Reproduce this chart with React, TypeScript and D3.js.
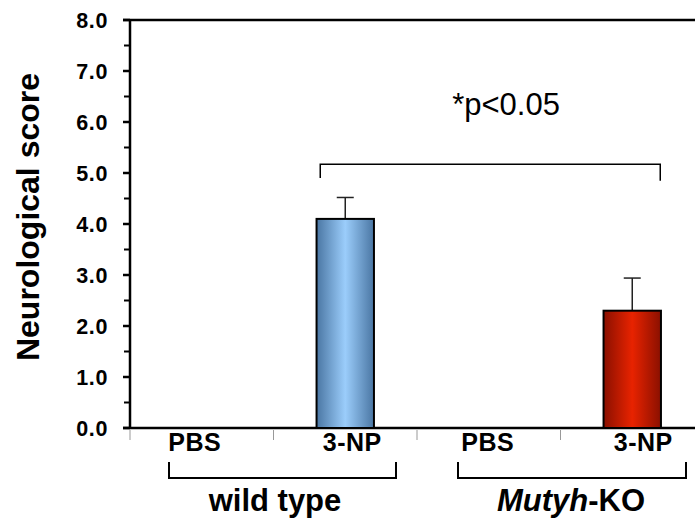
import React from 'react'
import * as d3 from 'd3'

// data
const groups = ['wild type', 'Mutyh-KO']
const treatments = ['PBS', '3-NP', 'PBS', '3-NP']
const scores = [0, 4.1, 0, 2.3]
const errors = [0, 0.42, 0, 0.64]
const barColors = [
  ['#4a76a3', '#9bcdfb'],
  ['#4a76a3', '#9bcdfb'],
  ['#8a1000', '#e82300'],
  ['#8a1000', '#e82300'],
]
const yTicks = [0, 1, 2, 3, 4, 5, 6, 7, 8]
const yMinor = [0.5, 1.5, 2.5, 3.5, 4.5, 5.5, 6.5, 7.5]
const sigText = '*p<0.05'

const W = 695
const H = 520
const font = 'Arial, "Liberation Sans", Helvetica, sans-serif'
// labels sit a little off the band centres in the original
const labelShift = [-7, 7, -1, 11]

export default function App() {
  const y = d3.scaleLinear().domain([0, 8]).range([428, 20])
  const x = d3.scaleBand<number>().domain(d3.range(treatments.length)).range([130, 704])
  const bw = x.bandwidth() * 0.4
  const cx = (i: number) => (x(i) as number) + x.bandwidth() / 2
  const fmt = d3.format('.1f')

  const groupSpan = (g: number) => {
    const a = x(g * 2) as number
    const b = (x(g * 2 + 1) as number) + x.bandwidth()
    return [a, b]
  }
  const bracketInset = [[39, 21], [41, 18]]

  return (
    <svg width={W} height={H} style={{ position: 'absolute', left: 0, top: 0, background: '#fff' }} fontFamily={font}>
      <defs>
        {barColors.map((c, i) => (
          <linearGradient key={i} id={'grad' + i} x1="0" x2="1" y1="0" y2="0">
            <stop offset="0" stopColor={c[0]} />
            <stop offset="0.5" stopColor={c[1]} />
            <stop offset="1" stopColor={c[0]} />
          </linearGradient>
        ))}
      </defs>

      {/* y title */}
      <text transform={`translate(39,${217}) rotate(-90)`} textAnchor="middle" fontWeight="bold" fontSize={32}>
        Neurological score
      </text>

      {/* y ticks */}
      {yTicks.map(t => (
        <g key={'t' + t}>
          <line x1={123} x2={130} y1={y(t)} y2={y(t)} stroke="#000" strokeWidth={2.5} />
          <text x={108} y={y(t) + 7.5} textAnchor="end" fontWeight="bold" fontSize={21.5} letterSpacing={0.6}>
            {fmt(t)}
          </text>
        </g>
      ))}
      {yMinor.map(t => (
        <line key={'m' + t} x1={124} x2={130} y1={y(t)} y2={y(t)} stroke="#000" strokeWidth={2} />
      ))}

      {/* frame lines */}
      <line x1={130} x2={130} y1={y(8) - 1} y2={y(0) + 1} stroke="#000" strokeWidth={2.5} />
      <line x1={123} x2={W} y1={y(8)} y2={y(8)} stroke="#000" strokeWidth={2.5} />
      <line x1={123} x2={W} y1={y(0)} y2={y(0)} stroke="#000" strokeWidth={2.5} />

      {/* category separators */}
      {d3.range(treatments.length).map(i => (
        <line key={'s' + i} x1={x(i) as number} x2={x(i) as number} y1={y(0) + 2} y2={y(0) + 12} stroke="#999" strokeWidth={1} />
      ))}

      {/* bars */}
      {scores.map((v, i) => v > 0 && (
        <g key={'b' + i}>
          <line x1={cx(i)} x2={cx(i)} y1={y(v)} y2={y(v + errors[i])} stroke="#222" strokeWidth={1.5} />
          <line x1={cx(i) - 8.5} x2={cx(i) + 8.5} y1={y(v + errors[i])} y2={y(v + errors[i])} stroke="#222" strokeWidth={1.5} />
          <rect x={cx(i) - bw / 2} y={y(v)} width={bw} height={y(0) - y(v)} fill={`url(#grad${i})`} stroke="#000" strokeWidth={2} />
        </g>
      ))}

      {/* significance bracket */}
      <path
        d={`M${cx(1) - 25},${y(4.9)} V${y(5.17)} H${cx(3) + 28} V${y(4.85)}`}
        fill="none" stroke="#000" strokeWidth={1.5}
      />
      <text x={506} y={115} textAnchor="middle" fontSize={31}>{sigText}</text>

      {/* treatment labels */}
      {treatments.map((t, i) => (
        <text key={'l' + i} x={cx(i) + labelShift[i]} y={451} textAnchor="middle" fontWeight="bold" fontSize={25} letterSpacing={0.5}>
          {t}
        </text>
      ))}

      {/* group brackets */}
      {groups.map((g, gi) => {
        const [a, b] = groupSpan(gi)
        const l = a + bracketInset[gi][0]
        const r = b - bracketInset[gi][1]
        return (
          <path key={'g' + gi} d={`M${l},462 V478 H${r} V462`} fill="none" stroke="#000" strokeWidth={2} />
        )
      })}
      <text x={275} y={511} textAnchor="middle" fontWeight="bold" fontSize={31}>{groups[0]}</text>
      <text x={571} y={511} textAnchor="middle" fontWeight="bold" fontSize={31}>
        <tspan fontStyle="italic">Mutyh</tspan>-KO
      </text>
    </svg>
  )
}
